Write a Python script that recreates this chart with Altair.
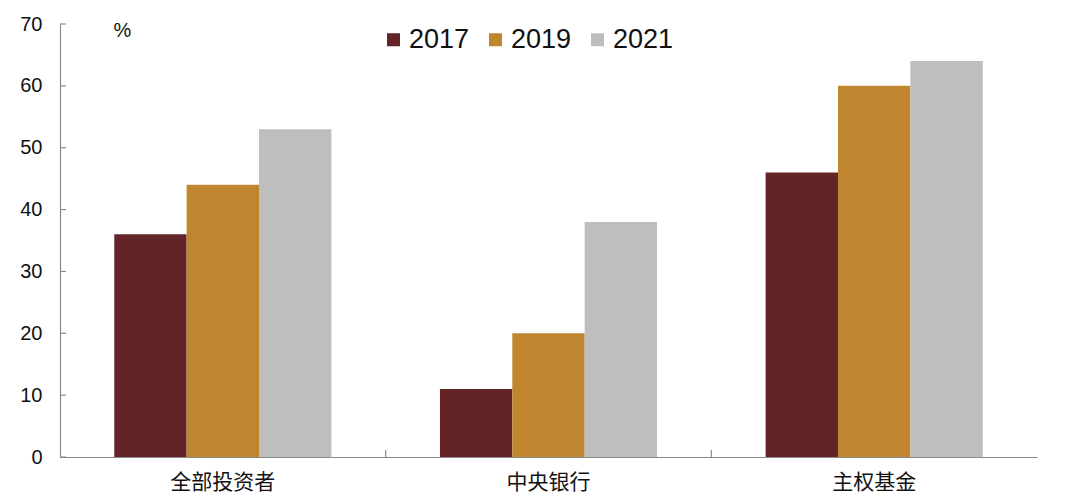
import altair as alt
import pandas as pd

categories = ["全部投资者", "中央银行", "主权基金"]
years = ["2017", "2019", "2021"]
values_2017 = [36, 11, 46]
values_2019 = [44, 20, 60]
values_2021 = [53, 38, 64]
colors = ["#632427", "#C0862F", "#BFBEBF"]
y_ticks = [0, 10, 20, 30, 40, 50, 60, 70]

rows = []
for yr, vals in zip(years, [values_2017, values_2019, values_2021]):
    for c, v in zip(categories, vals):
        rows.append({"category": c, "year": yr, "value": v})
df = pd.DataFrame(rows)

W, H = 977, 433
AX = "#8a8a8a"

x_axis = alt.Axis(
    title=None, labelAngle=0, ticks=False, labelPadding=14,
    labelFont="Noto Sans CJK SC", labelFontSize=21, labelColor="#111",
    domainColor=AX, domainWidth=1.2,
)
y_axis = alt.Axis(
    values=y_ticks, grid=False, ticks=False, labelPadding=18,
    labelFont="Liberation Sans", labelFontSize=20, labelColor="#111",
    domainColor=AX, domainWidth=1.2,
    title="%", titleAngle=0, titleX=53, titleY=6, titleAlign="left",
    titleBaseline="middle", titleFont="Liberation Sans",
    titleFontSize=20, titleFontWeight="normal", titleColor="#111",
)
x_scale = alt.Scale(paddingInner=0, paddingOuter=0)
y_scale = alt.Scale(domain=[0, 70], nice=False)

bars = alt.Chart(df).mark_bar().encode(
    x=alt.X("category:N", sort=categories, scale=x_scale, axis=x_axis),
    xOffset=alt.XOffset("year:N", sort=years,
                        scale=alt.Scale(paddingInner=0, paddingOuter=0.75)),
    y=alt.Y("value:Q", scale=y_scale, axis=y_axis),
    color=alt.Color(
        "year:N", sort=years,
        scale=alt.Scale(domain=years, range=colors),
        legend=alt.Legend(
            title=None, orient="none", legendX=320, legendY=2,
            direction="horizontal", symbolType="square", symbolSize=169,
            symbolStrokeWidth=0, labelFont="Liberation Sans", labelFontSize=27,
            labelColor="#111", labelOffset=2, columnPadding=12, padding=0,
        ),
    ),
)

ytick_df = pd.DataFrame({"value": y_ticks})
yticks = alt.Chart(ytick_df).mark_rule(color=AX, strokeWidth=1.2).encode(
    y=alt.Y("value:Q", scale=y_scale, axis=y_axis),
    x=alt.value(0),
    x2=alt.value(6),
)

div_df = pd.DataFrame({"category": categories[1:]})
xdiv = alt.Chart(div_df).mark_rule(color=AX, strokeWidth=1.2).encode(
    x=alt.X("category:N", sort=categories, bandPosition=0, scale=x_scale, axis=x_axis),
    y=alt.value(H),
    y2=alt.value(H - 7),
)

chart = alt.layer(bars, yticks, xdiv).properties(
    width=W, height=H,
    background="white",
    autosize=alt.AutoSizeParams(type="none"),
    padding={"left": 52, "top": 16, "right": 35, "bottom": 39},
).configure_view(stroke=None)

chart.save("out.html", embed_options={"renderer": "svg", "actions": False})
